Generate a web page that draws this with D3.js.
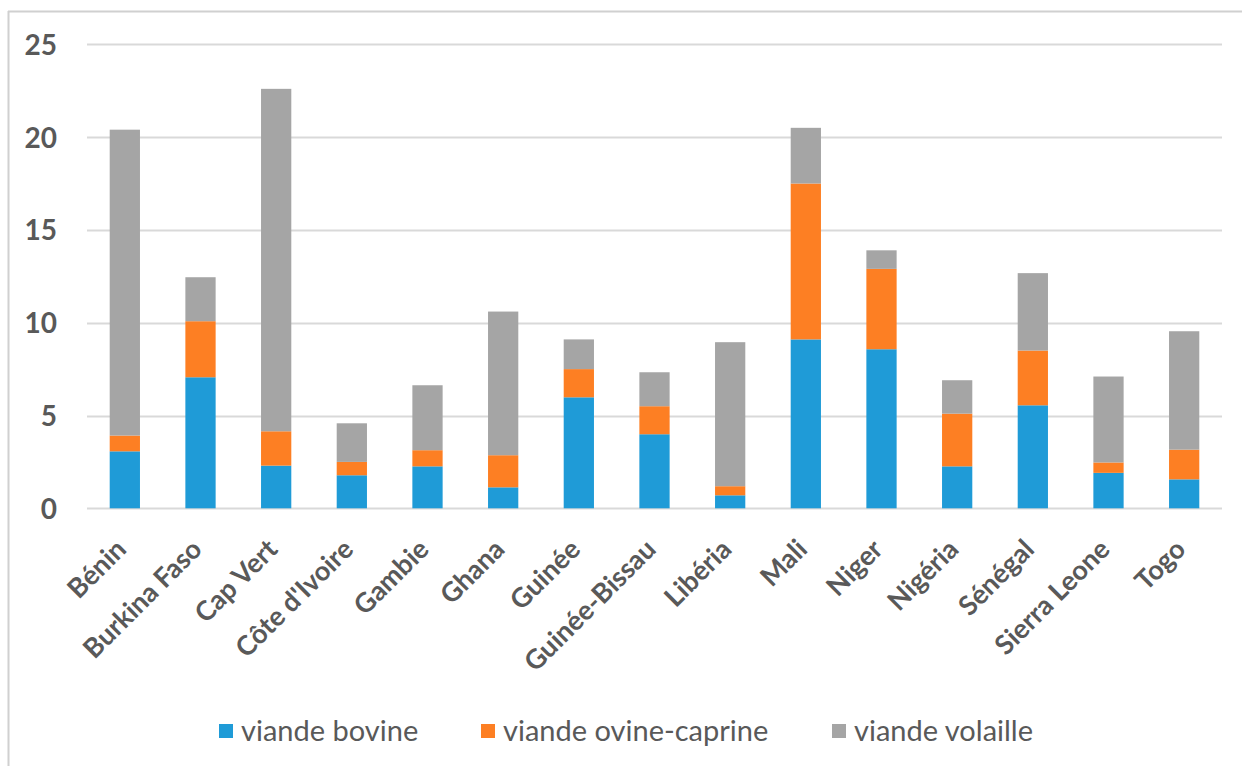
<!DOCTYPE html>
<html>
<head>
<meta charset="utf-8">
<script src="https://cdn.jsdelivr.net/npm/d3@7"></script>
<style>
  html, body { margin: 0; padding: 0; background: #fff; }
  svg { display: block; }
</style>
</head>
<body>
<div id="chart"></div>
<script>
// Consommation de viande par pays (kg / habitant / an)
const countries = ["Bénin", "Burkina Faso", "Cap Vert", "Côte d'Ivoire", "Gambie", "Ghana", "Guinée",
  "Guinée-Bissau", "Libéria", "Mali", "Niger", "Nigéria", "Sénégal", "Sierra Leone", "Togo"];
const seriesNames = ["viande bovine", "viande ovine-caprine", "viande volaille"];
const bovine  = [3.07, 7.06, 2.30, 1.78, 2.26, 1.13, 5.98, 3.99, 0.70, 9.10, 8.57, 2.26, 5.55, 1.91, 1.56];
const ovine   = [0.85, 3.02, 1.85, 0.72, 0.87, 1.73, 1.52, 1.51, 0.49, 8.40, 4.33, 2.84, 2.95, 0.56, 1.60];
const volaille = [16.48, 2.37, 18.45, 2.08, 3.50, 7.74, 1.60, 1.83, 7.76, 3.00, 1.00, 1.80, 4.17, 4.63, 6.38];
const yTicks = [0, 5, 10, 15, 20, 25];
const colors = ["#1f9bd7", "#fd7f23", "#a5a5a5"];

const W = 1242, H = 766;
const FONT = "Lato, 'Open Sans', sans-serif";

const svg = d3.select("#chart").append("svg").attr("width", W).attr("height", H);

// cadre
svg.append("line").attr("x1", 8.5).attr("x2", 8.5).attr("y1", 11).attr("y2", H)
  .attr("stroke", "#d0d0d0").attr("stroke-width", 2);
svg.append("line").attr("x1", 8).attr("x2", W).attr("y1", 11.5).attr("y2", 11.5)
  .attr("stroke", "#d0d0d0").attr("stroke-width", 2);

const x = d3.scaleBand().domain(countries).range([87, 1222]).paddingInner(0.6).paddingOuter(0.3);
const y = d3.scaleLinear().domain([0, 25]).range([508.3, 44.3]);

// quadrillage
svg.append("g").selectAll("line").data(yTicks).join("line")
  .attr("x1", 87).attr("x2", 1222)
  .attr("y1", d => Math.round(y(d)) + 0.5).attr("y2", d => Math.round(y(d)) + 0.5)
  .attr("stroke", "#d9d9d9").attr("stroke-width", 2);

// empilement
const rows = countries.map((c, i) => ({ country: c, s0: bovine[i], s1: ovine[i], s2: volaille[i] }));
const stack = d3.stack().keys(["s0", "s1", "s2"])(rows);

svg.append("g").selectAll("g").data(stack).join("g")
  .attr("fill", (d, i) => colors[i])
  .selectAll("rect").data(d => d).join("rect")
  .attr("x", d => x(d.data.country))
  .attr("width", x.bandwidth())
  .attr("y", d => y(d[1]))
  .attr("height", d => y(d[0]) - y(d[1]));

// axe Y
const yAxis = svg.append("g").attr("transform", "translate(57,0)")
  .call(d3.axisLeft(y).tickValues(yTicks).tickSize(0).tickPadding(0));
yAxis.select(".domain").remove();
yAxis.selectAll("text")
  .attr("font-family", FONT)
  .attr("font-weight", "bold")
  .attr("font-size", 28)
  .attr("fill", "#595959")
  .attr("dy", "0.36em");

// axe X
const xAxis = svg.append("g").attr("transform", "translate(0,0)")
  .call(d3.axisBottom(x).tickSize(0).tickPadding(0));
xAxis.select(".domain").remove();
xAxis.selectAll("text")
  .attr("font-family", FONT)
  .attr("font-weight", "bold")
  .attr("font-size", 27)
  .attr("fill", "#595959")
  .attr("text-anchor", "end")
  .attr("y", 0)
  .attr("dy", 0)
  .attr("transform", "translate(3,551) rotate(-45)");

// légende
const legendX = [219, 481, 832];
const legend = svg.append("g").selectAll("g").data(seriesNames).join("g")
  .attr("transform", (d, i) => `translate(${legendX[i]},731)`);
legend.append("rect").attr("x", 0).attr("y", -7).attr("width", 14).attr("height", 14)
  .attr("fill", (d, i) => colors[i]);
legend.append("text").attr("x", 22).attr("y", 0).attr("dy", "0.35em")
  .attr("font-family", FONT)
  .attr("font-size", 29)
  .attr("fill", "#595959")
  .text(d => d);
</script>
</body>
</html>
